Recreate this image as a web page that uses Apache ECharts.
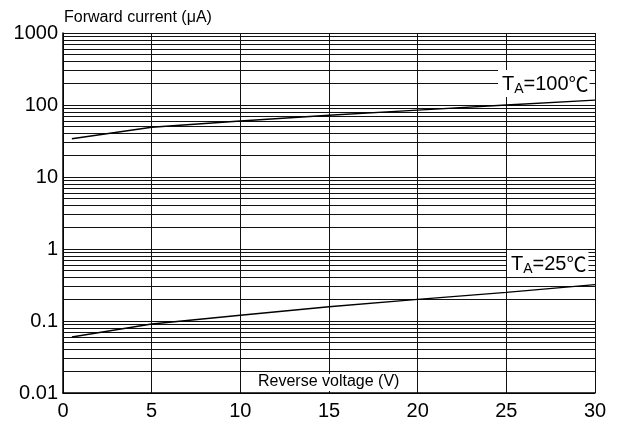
<!DOCTYPE html>
<html>
<head>
<meta charset="utf-8">
<script src="https://cdn.jsdelivr.net/npm/echarts@6/dist/echarts.min.js"></script>
<style>html,body{margin:0;padding:0;background:#fff}#c{width:621px;height:424px}</style>
</head>
<body>
<div id="c"></div>
<script>
const voltage = [0.5, 5, 10, 15, 20, 25, 30];
const current100 = [34, 49, 60, 72, 85, 100, 117];
const current25 = [0.060, 0.091, 0.12, 0.158, 0.20, 0.25, 0.32];
const xTickLabels = ['0', '5', '10', '15', '20', '25', '30'];
const yTickLabels = ['0.01', '0.1', '1', '10', '100', '1000'];
const decades = [0.01, 0.1, 1, 10, 100];
const minorMultipliers = [2, 3, 4, 5, 6, 7, 8, 9];

const FONT = '"Liberation Sans", Arial, "Noto Sans CJK SC", sans-serif';
const CJK = '"Noto Sans CJK SC", sans-serif';
const minorLines = [];
decades.forEach(d => minorMultipliers.forEach(m => minorLines.push({ yAxis: +(m * d).toPrecision(3) })));

const richLabel = {
  t: { fontSize: 20, lineHeight: 24, fontFamily: FONT, fill: '#000' },
  s: { fontSize: 14, lineHeight: 12, verticalAlign: 'bottom', fontFamily: FONT, fill: '#000' },
  c: { fontSize: 20, lineHeight: 24, fontFamily: CJK, fill: '#000' }
};

const chart = echarts.init(document.getElementById('c'), null, { renderer: 'canvas' });
chart.setOption({
  animation: false,
  backgroundColor: '#fff',
  textStyle: { fontFamily: FONT },
  grid: { left: 63, right: 26, top: 33, bottom: 31, containLabel: false },
  xAxis: {
    type: 'value', min: 0, max: 30, interval: 5,
    axisLine: { show: true, lineStyle: { color: '#000', width: 1.5 } },
    axisTick: { show: false },
    axisLabel: { color: '#000', fontSize: 20, fontFamily: FONT, margin: 8,
      formatter: v => xTickLabels[Math.round(v / 5)] },
    splitLine: { show: true, lineStyle: { color: '#111', width: 1 } }
  },
  yAxis: {
    type: 'log', logBase: 10, min: 0.01, max: 1000, splitNumber: 5,
    axisLine: { show: true, lineStyle: { color: '#000', width: 1.5 } },
    axisTick: { show: false },
    axisLabel: { color: '#000', fontSize: 20, fontFamily: FONT, margin: 5,
      formatter: v => yTickLabels[Math.round(Math.log10(v)) + 2] },
    splitLine: { show: true, lineStyle: { color: '#111', width: 1 } }
  },
  series: [
    {
      type: 'line', data: voltage.map((v, i) => [v, current100[i]]),
      symbol: 'none', lineStyle: { color: '#000', width: 1.4 }, z: 5,
      markLine: {
        silent: true, symbol: ['none', 'none'], label: { show: false },
        lineStyle: { color: '#111', width: 1, type: 'solid' },
        data: minorLines, z: 1
      }
    },
    {
      type: 'line', data: voltage.map((v, i) => [v, current25[i]]),
      symbol: 'none', lineStyle: { color: '#000', width: 1.4 }, z: 5
    }
  ],
  graphic: [
    { type: 'text', left: 64, top: 10, style: { text: 'Forward current (μA)', fontSize: 16, fontFamily: FONT, fill: '#000' } },
    { type: 'text', left: 256, top: 374, z: 100,
      style: { text: 'Reverse voltage (V)', fontSize: 16, fontFamily: FONT, fill: '#000', backgroundColor: '#fff', padding: [0, 2, 1, 2] } },
    { type: 'text', left: 498, top: 70, z: 100,
      style: { text: '{t|T}{s|A}{t|=100}{c|℃}', backgroundColor: '#fff', padding: [2, 1, 1, 4], rich: richLabel } },
    { type: 'text', left: 507, top: 250, z: 100,
      style: { text: '{t|T}{s|A}{t|=25}{c|℃}', backgroundColor: '#fff', padding: [2, 2, 1, 4], rich: richLabel } }
  ]
});
</script>
</body>
</html>
